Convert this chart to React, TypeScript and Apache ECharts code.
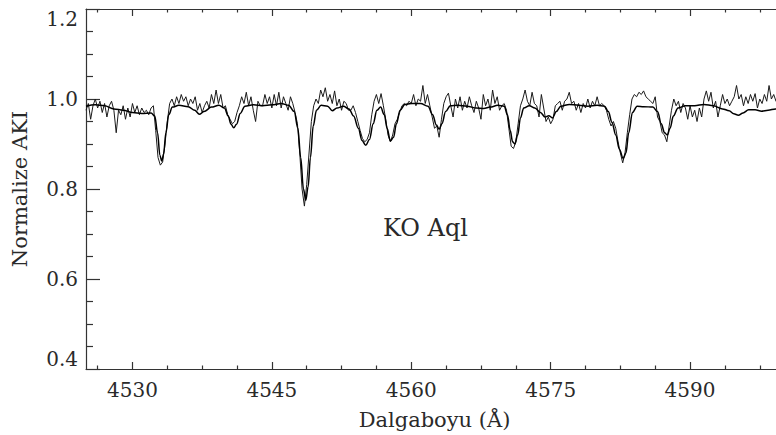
import React, { useEffect, useRef } from "react";
import * as echarts from "echarts";

// Observed spectrum: flux sampled every 0.25 Å from 4525 Å
const waveStart = 4525;
const waveStep = 0.25;
const observedFlux = [
  0.975, 0.990, 0.955, 0.985,
  1.000, 0.980, 0.995, 0.970,
  0.990, 0.960, 0.985, 0.995,
  0.975, 0.925, 0.975, 0.965,
  0.985, 0.955, 0.980, 0.960,
  0.990, 0.970, 0.985, 0.965,
  0.980, 0.970, 0.975, 0.965,
  0.980, 0.985, 0.930, 0.870,
  0.853, 0.860, 0.900, 0.950,
  0.990, 1.000, 0.985, 1.005,
  0.990, 1.010, 0.995, 1.005,
  0.985, 1.000, 0.990, 1.005,
  0.975, 0.990, 0.970, 0.985,
  0.995, 0.980, 1.010, 0.990,
  1.020, 0.990, 1.010, 0.980,
  0.985, 0.965, 0.955, 0.945,
  0.950, 0.970, 0.985, 1.005,
  0.990, 1.015, 0.985, 1.005,
  0.975, 0.950, 0.995, 0.985,
  0.985, 1.010, 0.990, 1.005,
  0.980, 1.010, 0.985, 1.015,
  0.980, 1.005, 0.990, 0.975,
  1.005, 0.990, 0.970, 0.945,
  0.880, 0.800, 0.762, 0.810,
  0.880, 0.950, 0.985, 1.000,
  0.990, 1.020, 1.005, 1.025,
  0.995, 1.010, 0.990, 1.018,
  0.985, 1.000, 0.975, 0.995,
  0.990, 0.975, 0.975, 0.985,
  0.970, 0.950, 0.930, 0.912,
  0.905, 0.910, 0.925, 0.965,
  0.995, 1.010, 0.990, 1.012,
  0.985, 0.955, 0.920, 0.905,
  0.920, 0.945, 0.955, 0.970,
  0.985, 0.990, 0.985, 0.995,
  0.990, 1.010, 0.985, 1.000,
  0.995, 1.030, 0.990, 1.010,
  0.985, 0.960, 0.935, 0.940,
  0.915, 0.955, 0.990, 1.005,
  1.013, 0.985, 0.960, 1.000,
  0.980, 1.005, 0.975, 0.995,
  0.980, 1.005, 0.985, 0.970,
  0.995, 0.980, 0.955, 1.010,
  0.985, 1.000, 0.975, 1.020,
  0.990, 1.005, 0.975, 0.985,
  0.990, 0.975, 0.935, 0.895,
  0.890, 0.905, 0.945, 0.985,
  1.000, 1.020, 0.995, 0.985,
  1.015, 0.990, 0.985, 0.960,
  1.010, 0.980, 0.950, 0.960,
  0.945, 0.955, 0.985, 0.990,
  0.995, 0.975, 0.995, 1.000,
  1.015, 0.990, 0.995, 0.975,
  0.990, 0.970, 0.990, 0.980,
  1.000, 0.980, 0.995, 0.985,
  1.005, 0.985, 0.990, 0.985,
  0.975, 0.955, 0.940, 0.950,
  0.935, 0.905, 0.880, 0.858,
  0.880, 0.925, 0.965, 1.000,
  1.010, 1.005, 1.015, 1.010,
  1.018, 1.005, 1.000, 0.995,
  0.990, 1.005, 0.960, 0.950,
  0.925, 0.920, 0.905, 0.940,
  0.975, 1.000, 0.985, 0.995,
  0.970, 0.990, 0.980, 0.955,
  0.985, 0.960, 0.975, 0.950,
  0.980, 0.960, 1.000, 1.018,
  0.995, 1.015, 0.980, 0.995,
  0.960, 0.985, 1.010, 0.990,
  1.000, 0.985, 0.995, 1.005,
  1.030, 1.000, 1.010, 0.985,
  1.005, 0.990, 1.010, 0.995,
  1.012, 0.980, 1.000, 0.990,
  1.010, 0.995, 1.030, 1.000,
  1.010, 0.995, 1.005, 0.990,
  1.000,
];

// Synthetic (model) spectrum: [wavelength Å, normalized flux]
const modelSpectrum: [number, number][] = [
  [4525, 0.984], [4526, 0.987], [4527, 0.985], [4528, 0.978], [4529, 0.975],
  [4530, 0.970], [4531, 0.968], [4532, 0.969], [4532.4, 0.962], [4532.7, 0.925],
  [4532.95, 0.875], [4533.15, 0.862], [4533.35, 0.878], [4533.6, 0.925], [4533.9, 0.965],
  [4534.3, 0.982], [4535, 0.986], [4536, 0.983], [4536.7, 0.975], [4537.2, 0.966],
  [4537.7, 0.972], [4538.5, 0.982], [4539.3, 0.986], [4539.9, 0.980], [4540.3, 0.962],
  [4540.6, 0.944], [4540.9, 0.936], [4541.2, 0.944], [4541.6, 0.968], [4542.1, 0.984],
  [4543, 0.987], [4544, 0.985], [4545, 0.987], [4546, 0.990], [4546.8, 0.986],
  [4547.4, 0.972], [4547.8, 0.935], [4548.1, 0.870], [4548.4, 0.800], [4548.65, 0.775],
  [4548.9, 0.805], [4549.15, 0.870], [4549.45, 0.940], [4549.8, 0.975], [4550.3, 0.986],
  [4551, 0.984], [4551.5, 0.974], [4552, 0.980], [4552.7, 0.984], [4553.3, 0.978],
  [4553.8, 0.962], [4554.3, 0.935], [4554.7, 0.908], [4555.1, 0.897], [4555.5, 0.910],
  [4555.9, 0.945], [4556.3, 0.975], [4556.7, 0.982], [4557.1, 0.965], [4557.4, 0.935],
  [4557.75, 0.907], [4558.1, 0.915], [4558.4, 0.945], [4558.8, 0.975], [4559.3, 0.988],
  [4560, 0.990], [4561, 0.990], [4561.8, 0.984], [4562.3, 0.965], [4562.7, 0.942],
  [4563.0, 0.933], [4563.3, 0.945], [4563.7, 0.972], [4564.2, 0.985], [4565, 0.986],
  [4566, 0.984], [4567, 0.980], [4567.8, 0.979], [4568.5, 0.982], [4569.3, 0.986],
  [4570, 0.984], [4570.35, 0.965], [4570.65, 0.930], [4570.9, 0.905], [4571.15, 0.900],
  [4571.45, 0.920], [4571.75, 0.958], [4572.1, 0.980], [4572.7, 0.985], [4573.3, 0.980],
  [4573.9, 0.970], [4574.4, 0.960], [4574.8, 0.963], [4575.2, 0.958], [4575.6, 0.972],
  [4576.1, 0.984], [4577, 0.988], [4578, 0.986], [4579, 0.984], [4580, 0.986],
  [4580.8, 0.984], [4581.2, 0.972], [4581.6, 0.948], [4582.0, 0.920], [4582.4, 0.888],
  [4582.8, 0.868], [4583.1, 0.880], [4583.4, 0.925], [4583.8, 0.970], [4584.3, 0.984],
  [4585, 0.983], [4586, 0.982], [4586.5, 0.972], [4586.9, 0.945], [4587.25, 0.925],
  [4587.55, 0.920], [4587.85, 0.935], [4588.2, 0.962], [4588.7, 0.980], [4589.5, 0.985],
  [4590.5, 0.985], [4591.5, 0.988], [4592.5, 0.985], [4593.5, 0.978], [4594.2, 0.974],
  [4594.7, 0.967], [4595.2, 0.964], [4595.7, 0.969], [4596.3, 0.976], [4597, 0.976],
  [4597.7, 0.973], [4598.4, 0.975], [4599.2, 0.978], [4600, 0.980],
];

const xMajorTicks = [4530, 4545, 4560, 4575, 4590];
const xMinorTicks = [
  4526.25, 4533.75, 4537.5, 4541.25, 4548.75, 4552.5, 4556.25, 4563.75,
  4567.5, 4571.25, 4578.75, 4582.5, 4586.25, 4593.75, 4597.5,
];
const xRange = [4525, 4600];
const yRange = [0.4, 1.2];
const yStep = 0.2;
const starLabel = "KO Aql";
const xTitle = "Dalgaboyu (Å)";
const yTitle = "Normalize AKI";

const FONT = "DejaVu Serif";
const INK = "#2a2a2a";
const AXIS = "#333";

export default function App() {
  const ref = useRef<HTMLDivElement>(null);

  useEffect(() => {
    if (!ref.current) return;
    const chart = echarts.init(ref.current, undefined, { renderer: "svg" });

    const obsData = observedFlux.map((f, i) => [waveStart + i * waveStep, f]);
    const gridBox = { left: 86, top: 9, width: 697, height: 360 };

    const axisLine = { show: true, onZero: false, lineStyle: { color: AXIS, width: 1.2 } };

    chart.setOption({
      animation: false,
      backgroundColor: "#fff",
      grid: [
        { ...gridBox, containLabel: false },
        { ...gridBox, containLabel: false },
      ],
      xAxis: [
        {
          gridIndex: 0,
          type: "value",
          position: "bottom",
          min: xRange[0],
          max: xRange[1],
          axisLine,
          splitLine: { show: false },
          axisTick: { show: true, inside: true, length: 7, customValues: xMajorTicks, lineStyle: { color: AXIS, width: 1.2 } },
          axisLabel: {
            show: true,
            customValues: xMajorTicks,
            formatter: (v: number) => String(v),
            margin: 11,
            color: INK,
            fontFamily: FONT,
            fontSize: 20,
          },
          name: xTitle,
          nameLocation: "middle",
          nameGap: 40,
          nameTextStyle: { color: INK, fontFamily: FONT, fontSize: 21 },
        },
        {
          gridIndex: 0,
          type: "value",
          position: "top",
          min: xRange[0],
          max: xRange[1],
          axisLine,
          splitLine: { show: false },
          axisTick: { show: true, inside: true, length: 7, customValues: xMajorTicks, lineStyle: { color: AXIS, width: 1.2 } },
          axisLabel: { show: false },
        },
        {
          gridIndex: 1,
          type: "value",
          position: "bottom",
          min: xRange[0],
          max: xRange[1],
          axisLine: { show: false },
          splitLine: { show: false },
          axisTick: { show: true, inside: true, length: 3.5, customValues: xMinorTicks, lineStyle: { color: AXIS, width: 1.2 } },
          axisLabel: { show: false },
        },
        {
          gridIndex: 1,
          type: "value",
          position: "top",
          min: xRange[0],
          max: xRange[1],
          axisLine: { show: false },
          splitLine: { show: false },
          axisTick: { show: true, inside: true, length: 3.5, customValues: xMinorTicks, lineStyle: { color: AXIS, width: 1.2 } },
          axisLabel: { show: false },
        },
      ],
      yAxis: [
        {
          gridIndex: 0,
          type: "value",
          position: "left",
          min: yRange[0],
          max: yRange[1],
          interval: yStep,
          axisLine,
          splitLine: { show: false },
          axisTick: { show: true, inside: true, length: 14, lineStyle: { color: AXIS, width: 1.2 } },
          minorTick: { show: true, splitNumber: 4, length: 7, lineStyle: { color: AXIS, width: 1.2 } },
          axisLabel: {
            show: true,
            margin: 8,
            color: INK,
            fontFamily: FONT,
            fontSize: 20,
            formatter: (v: number) => v.toFixed(1),
            verticalAlignMinLabel: "bottom",
            verticalAlignMaxLabel: "top",
          },
          name: yTitle,
          nameLocation: "middle",
          nameRotate: 90,
          nameGap: 56,
          nameTextStyle: { color: INK, fontFamily: FONT, fontSize: 21 },
        },
        {
          gridIndex: 1,
          type: "value",
          min: yRange[0],
          max: yRange[1],
          show: false,
        },
      ],
      graphic: [
        {
          type: "text",
          left: 383,
          top: 216,
          style: { text: starLabel, fill: INK, font: `24px "${FONT}"` },
        },
      ],
      series: [
        {
          type: "line",
          xAxisIndex: 0,
          yAxisIndex: 0,
          data: obsData,
          showSymbol: false,
          lineStyle: { color: "#1a1a1a", width: 1 },
          z: 2,
        },
        {
          type: "line",
          xAxisIndex: 0,
          yAxisIndex: 0,
          data: modelSpectrum,
          showSymbol: false,
          smooth: 0.35,
          smoothMonotone: "x",
          lineStyle: { color: "#000", width: 1.5 },
          z: 3,
        },
      ],
    });

    return () => chart.dispose();
  }, []);

  return (
    <div
      style={{
        position: "fixed",
        left: 0,
        top: 0,
        width: 776,
        height: 435,
        overflow: "hidden",
        background: "#fff",
      }}
    >
      <div ref={ref} style={{ width: 790, height: 435 }} />
    </div>
  );
}
